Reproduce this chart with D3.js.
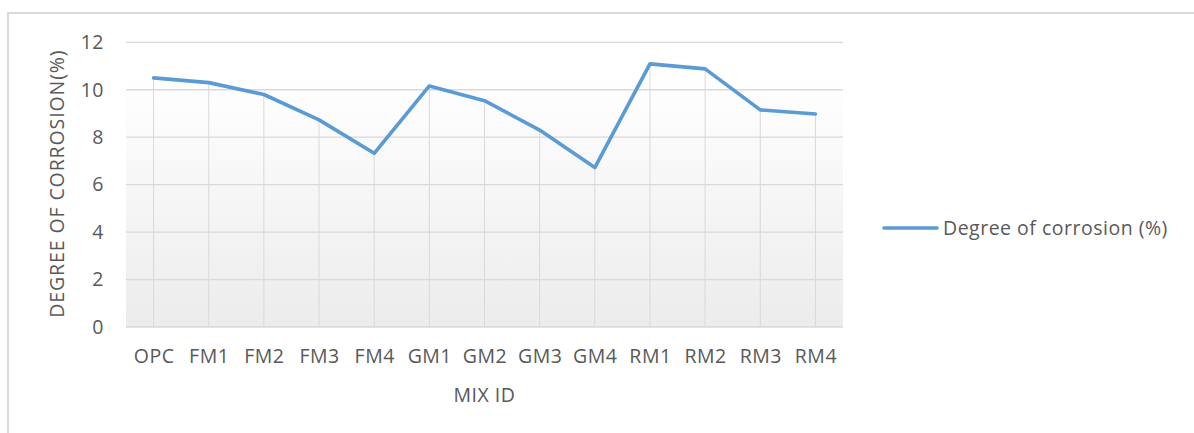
<!DOCTYPE html>
<html><head><meta charset="utf-8">
<script src="https://cdn.jsdelivr.net/npm/d3@7"></script>
<style>html,body{margin:0;padding:0;background:#fff;}svg{display:block;font-family:"Open Sans",sans-serif;}</style>
</head><body>
<svg id="c" width="1194" height="433"></svg>
<script>
const categories = ["OPC","FM1","FM2","FM3","FM4","GM1","GM2","GM3","GM4","RM1","RM2","RM3","RM4"];
const corrosion = [10.5,10.3,9.8,8.73,7.32,10.16,9.54,8.3,6.72,11.09,10.88,9.15,8.98];
const yTicks = [0,2,4,6,8,10,12];
const seriesName = "Degree of corrosion (%)";
const yTitle = "DEGREE OF CORROSION(%)";
const xTitle = "MIX ID";

const svg = d3.select("#c");
const txt = "#595959", grid = "#d9d9d9", lineCol = "#5b9bd5";
const L = 126, R = 843, T = 42.3, B = 327;
const FS = 19.5, LS = 0.5;

svg.append("rect").attr("x",8).attr("y",13).attr("width",1200).attr("height",440)
  .attr("fill","none").attr("stroke","#d9d9d9").attr("stroke-width",2);

const defs = svg.append("defs");
const g = defs.append("linearGradient").attr("id","bg").attr("x1",0).attr("y1",0).attr("x2",0).attr("y2",1);
g.append("stop").attr("offset","0%").attr("stop-color","#ffffff");
g.append("stop").attr("offset","12%").attr("stop-color","#ffffff");
g.append("stop").attr("offset","100%").attr("stop-color","#ececec");

const x = d3.scalePoint().domain(categories).range([L,R]).padding(0.5);
const y = d3.scaleLinear().domain([0,12]).range([B,T]);

svg.append("rect").attr("x",L).attr("y",y(12)).attr("width",R-L).attr("height",y(0)-y(12)).attr("fill","url(#bg)");

svg.append("g").selectAll("line").data(yTicks).join("line")
  .attr("x1",L).attr("x2",R).attr("y1",d=>y(d)).attr("y2",d=>y(d))
  .attr("stroke",grid).attr("stroke-width",1.3);

svg.append("g").selectAll("line").data(categories).join("line")
  .attr("x1",d=>x(d)).attr("x2",d=>x(d))
  .attr("y1",(d,i)=>y(corrosion[i])).attr("y2",y(0))
  .attr("stroke",grid).attr("stroke-width",1);

const ya = svg.append("g").attr("transform",`translate(${L-22},0)`)
  .call(d3.axisLeft(y).tickValues(yTicks).tickSize(0).tickPadding(0));
ya.select(".domain").remove();
ya.selectAll("text").attr("fill",txt).attr("font-size",FS).attr("letter-spacing",LS).attr("font-family","Open Sans");

const xa = svg.append("g").attr("transform",`translate(0,${B+18})`)
  .call(d3.axisBottom(x).tickSize(0).tickPadding(0));
xa.select(".domain").remove();
xa.selectAll("text").attr("fill",txt).attr("font-size",FS).attr("letter-spacing",LS).attr("font-family","Open Sans").attr("dy","0.9em");

svg.append("path").datum(corrosion)
  .attr("d", d3.line().x((d,i)=>x(categories[i])).y(d=>y(d)))
  .attr("fill","none").attr("stroke",lineCol).attr("stroke-width",3.6).attr("stroke-linejoin","round").attr("stroke-linecap","round");

svg.append("text").attr("transform",`translate(64,${(T+B)/2-1}) rotate(-90)`)
  .attr("text-anchor","middle").attr("fill",txt).attr("font-size",FS).attr("letter-spacing",0.9).text(yTitle);
svg.append("text").attr("x",(L+R)/2).attr("y",402).attr("text-anchor","middle")
  .attr("fill",txt).attr("font-size",FS).attr("letter-spacing",LS).text(xTitle);

svg.append("line").attr("x1",884).attr("x2",937).attr("y1",228).attr("y2",228)
  .attr("stroke",lineCol).attr("stroke-width",3.6).attr("stroke-linecap","round");
svg.append("text").attr("x",943).attr("y",235).attr("fill",txt).attr("font-size",FS).attr("letter-spacing",LS).text(seriesName);
</script>
</body></html>
